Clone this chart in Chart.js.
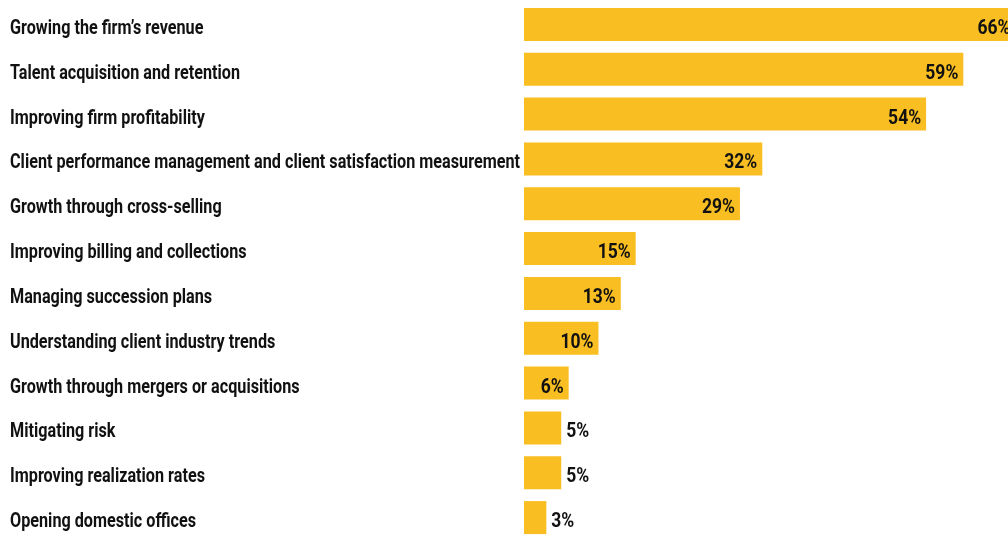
<!DOCTYPE html>
<html lang="en">
<head>
  <meta charset="UTF-8">
  <title>Firm priorities</title>
  <script src="https://cdn.jsdelivr.net/npm/chart.js"></script>
  <style>
    body { margin: 0; background: #fff; overflow: hidden; }
    .chartBox { width: 1008px; height: 544px; position: relative; }
  </style>
</head>
<body>
  <div class="chartBox">
    <canvas id="myChart"></canvas>
  </div>

  <script>
    const categories = [
      'Growing the firm\u2019s revenue',
      'Talent acquisition and retention',
      'Improving firm profitability',
      'Client performance management and client satisfaction measurement',
      'Growth through cross-selling',
      'Improving billing and collections',
      'Managing succession plans',
      'Understanding client industry trends',
      'Growth through mergers or acquisitions',
      'Mitigating risk',
      'Improving realization rates',
      'Opening domestic offices'
    ];
    const percents = [66, 59, 54, 32, 29, 15, 13, 10, 6, 5, 5, 3];

    const barColor = '#f9be22';
    const textColor = '#111111';
    const labelFont = 'bold 20px Roboto, "Liberation Sans", sans-serif';

    // the original uses a bold condensed face; squeeze a regular bold one to the same width
    function squeeze(ctx, sample, target) {
      ctx.font = labelFont;
      return target / ctx.measureText(sample).width;
    }

    // category names at the left edge, placed on the y scale
    const categoryLabels = {
      id: 'categoryLabels',
      afterDraw(chart) {
        const ctx = chart.ctx;
        const y = chart.scales.y;
        ctx.save();
        const sx = squeeze(ctx, categories[3], 510);
        ctx.fillStyle = textColor;
        ctx.textAlign = 'left';
        ctx.textBaseline = 'alphabetic';
        categories.forEach((c, i) => {
          const py = y.getPixelForValue(i) + 9.5;
          ctx.save();
          ctx.translate(10, py);
          ctx.scale(sx, 1);
          ctx.fillText(c, 0, 0);
          ctx.restore();
        });
        ctx.restore();
      }
    };

    // value labels: inside the bar end, or just outside when the bar is short
    const valueLabels = {
      id: 'valueLabels',
      afterDatasetsDraw(chart) {
        const ctx = chart.ctx;
        const meta = chart.getDatasetMeta(0);
        ctx.save();
        const sx = squeeze(ctx, '59%', 33);
        ctx.fillStyle = textColor;
        ctx.textBaseline = 'alphabetic';
        meta.data.forEach((bar, i) => {
          const v = percents[i];
          const txt = v + '%';
          const inside = v >= 6;
          ctx.save();
          ctx.translate(inside ? bar.x - 5 : bar.x + 5, bar.y + 9.5);
          ctx.scale(sx, 1);
          ctx.textAlign = inside ? 'right' : 'left';
          ctx.fillText(txt, 0, 0);
          ctx.restore();
        });
        ctx.restore();
      }
    };

    const data = {
      labels: categories,
      datasets: [{
        data: percents,
        backgroundColor: barColor,
        borderWidth: 0,
        categoryPercentage: 1,
        barPercentage: 0.736
      }]
    };

    const config = {
      type: 'bar',
      data,
      options: {
        indexAxis: 'y',
        responsive: true,
        maintainAspectRatio: false,
        animation: false,
        layout: { padding: { left: 524, top: 2, bottom: 4, right: 0 } },
        plugins: {
          legend: { display: false },
          tooltip: { enabled: false }
        },
        scales: {
          x: { display: false, min: 0, max: 65 },
          y: { display: false }
        }
      },
      plugins: [valueLabels, categoryLabels]
    };

    const myChart = new Chart(document.getElementById('myChart'), config);
  </script>
</body>
</html>
